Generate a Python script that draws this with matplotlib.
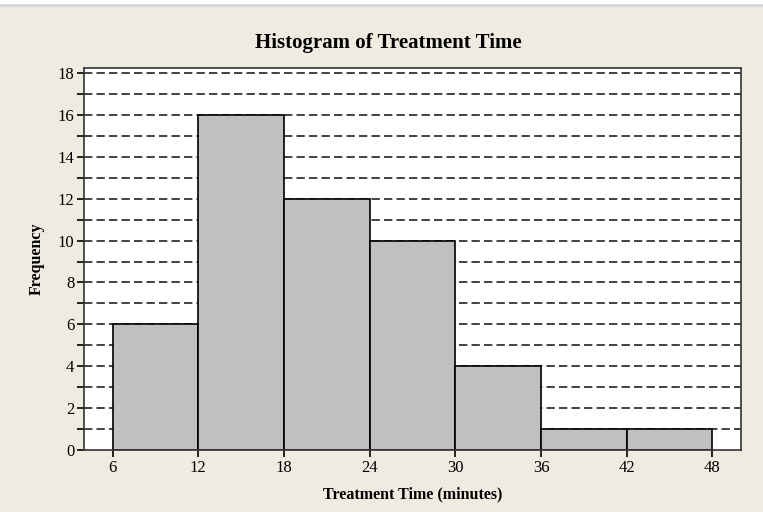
import numpy as np
import matplotlib.pyplot as plt
from matplotlib.ticker import MultipleLocator

# bin edges and counts
bin_edges = [6, 12, 18, 24, 30, 36, 42, 48]
counts = [6, 16, 12, 10, 4, 1, 1]
x_ticks = [6, 12, 18, 24, 30, 36, 42, 48]
y_ticks = [0, 2, 4, 6, 8, 10, 12, 14, 16, 18]

BG = '#efebe1'
BAR = '#c0c0c0'

plt.rcParams['font.family'] = ['Liberation Serif', 'DejaVu Serif']

fig = plt.figure(figsize=(7.63, 5.12), dpi=100, facecolor=BG)
ax = fig.add_axes([84 / 763, 1 - 450 / 512, (741 - 84) / 763, (450 - 68) / 512])
ax.set_facecolor('white')

# dashed reference lines at every whole count
for y in range(1, 19):
    ax.axhline(y, color='#222222', lw=1.2, linestyle=(0, (5, 2.5)), zorder=1)

left = np.array(bin_edges[:-1])
widths = np.diff(bin_edges)
ax.bar(left, counts, width=widths, align='edge', color=BAR,
       edgecolor='black', linewidth=1.2, zorder=2)

ax.set_xlim(4, 50)
ax.set_ylim(0, 18.24)
ax.set_xticks(x_ticks)
ax.set_yticks(y_ticks)
ax.yaxis.set_minor_locator(MultipleLocator(1))
ax.tick_params(axis='both', which='major', direction='out', length=5,
               width=1.2, labelsize=12, pad=2)
ax.tick_params(axis='y', which='minor', direction='out', length=5, width=1.2)
for s in ax.spines.values():
    s.set_linewidth(1.2)
    s.set_color('#333333')

ax.set_xlabel('Treatment Time (minutes)', fontsize=11.5, fontweight='bold', labelpad=8)
ax.set_ylabel('Frequency', fontsize=11.5, fontweight='bold', labelpad=9)

fig.text(388 / 763, 1 - 43 / 512, 'Histogram of Treatment Time', ha='center',
         va='center', fontsize=15, fontweight='bold')

# thin grey strip at the very top of the frame
fig.add_artist(plt.Line2D([0, 1], [1 - 5 / 512, 1 - 5 / 512], color='#d4d4d4', lw=2))
fig.add_artist(plt.Rectangle((0, 1 - 4 / 512), 1, 4 / 512, color='white', zorder=0))

fig.savefig('out.png', dpi=100, facecolor=BG)
